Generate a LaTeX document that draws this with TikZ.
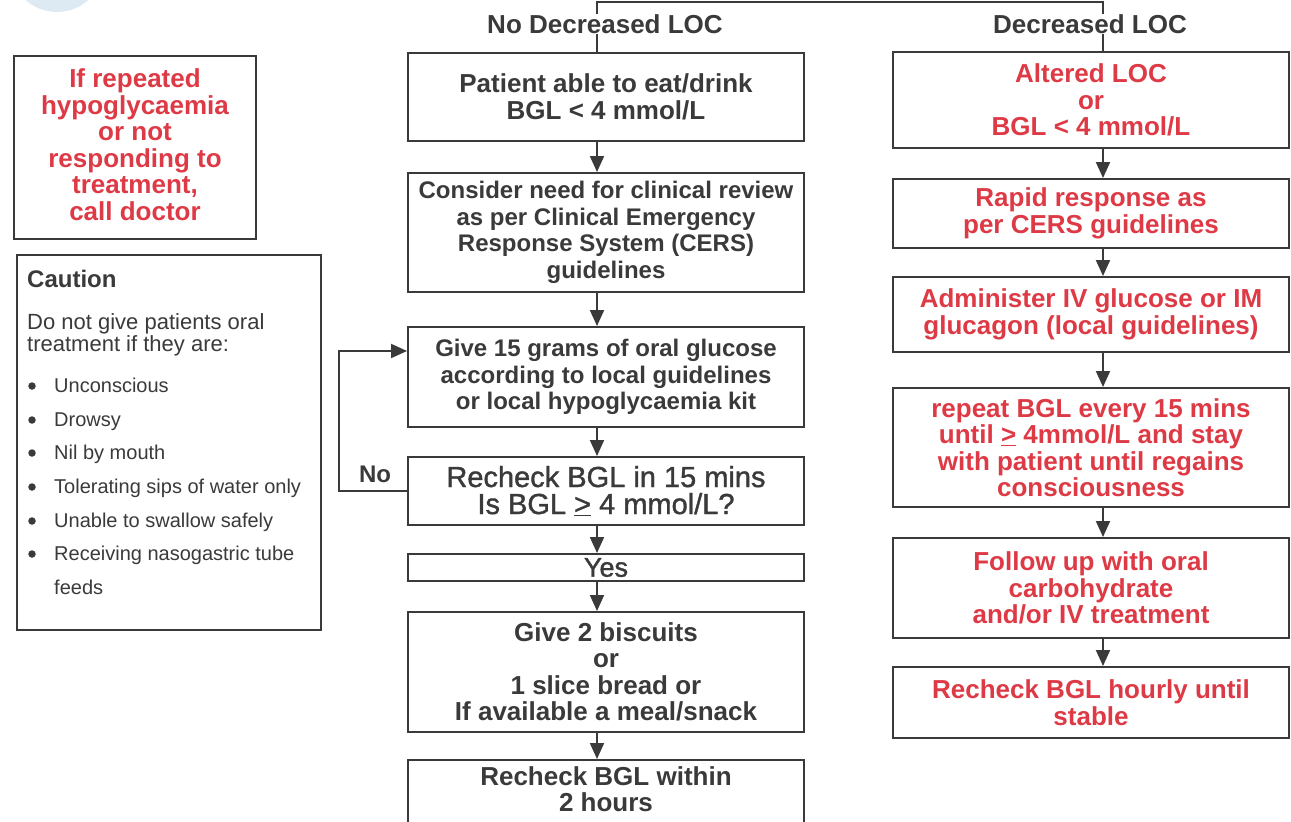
\documentclass[tikz,border=0pt]{standalone}
\usepackage{fontspec}
\setmainfont{Liberation Sans}
\newfontfamily\medfont[FakeBold=1.3]{Liberation Sans}
\usetikzlibrary{arrows.meta}
\definecolor{ink}{RGB}{58,58,58}
\definecolor{redt}{RGB}{222,58,70}
\definecolor{bubble}{RGB}{222,234,243}
\newcommand\fsz[2]{\fontsize{#1}{#2}\selectfont}
\tikzset{
  box/.style={draw=ink, line width=2pt, minimum width=396pt, align=center,
    inner sep=0pt, text=ink, font=\bfseries\fsz{26}{26.5}},
  rbox/.style={box, text=redt},
  hdr/.style={inner sep=0pt, text=ink, font=\bfseries\fsz{26}{26}},
  conn/.style={draw=ink, line width=2pt},
  arr/.style={conn, -{Triangle[width=14pt,length=16pt]}},
  ctext/.style={inner sep=0pt, text=ink, anchor=base west},
  bul/.style={ctext, font=\fsz{20}{20}},
  dot/.style={circle, fill=ink, inner sep=0pt, minimum size=7.5pt}
}
\begin{document}
\begin{tikzpicture}[x=1pt,y=-1pt]
\useasboundingbox (0,0) rectangle (1291,822);
\fill[white] (0,0) rectangle (1291,822);
\fill[bubble] (57,-35) circle (47pt);

% coordinates for connector axes
\coordinate (axL) at (597,0);
\coordinate (axR) at (1103,0);
\coordinate (topline) at (0,2);
\coordinate (loopTop) at (339,351);

% headers
\node[hdr] (HL) at (605,24) {No Decreased LOC};
\node[hdr] (HR) at (1090,24) {Decreased LOC};

% left column
\node[box, minimum height=88pt] (L1) at (606,97) {Patient able to eat/drink\\BGL < 4 mmol/L};
\node[box, minimum height=119pt, font=\bfseries\fsz{24}{26.5}] (L2) at (606,232.5) {Consider need for clinical review\\as per Clinical Emergency\\Response System (CERS)\\guidelines};
\node[box, minimum height=100pt, font=\bfseries\fsz{24}{26.5}] (L3) at (606,377) {Give 15 grams of oral glucose\\according to local guidelines\\or local hypoglycaemia kit};
\node[box, minimum height=68pt, font=\medfont\fsz{29}{27}] (L4) at (606,491) {Recheck BGL in 15 mins\\Is BGL \underline{>} 4 mmol/L?};
\node[box, minimum height=27pt, font=\medfont\fsz{27}{27}] (L5) at (606,567.5) {Yes};
\node[box, minimum height=120pt] (L6) at (606,672) {Give 2 biscuits\\or\\1 slice bread or\\If available a meal/snack};
\node[box, minimum height=84pt] (L7) at (606,802) {};
\node[inner sep=0pt, align=center, text=ink, font=\bfseries\fsz{26}{26.5}] (L7T) at (606,789) {Recheck BGL within\\2 hours};
\node[inner sep=0pt, text=ink, font=\bfseries\fsz{24}{24}] (No) at (375,474) {No};

% right column
\node[rbox, minimum height=96pt] (R1) at (1091,100) {Altered LOC\\or\\BGL < 4 mmol/L};
\node[rbox, minimum height=69pt] (R2) at (1091,213.5) {Rapid response as\\per CERS guidelines};
\node[rbox, minimum height=75pt] (R3) at (1091,314.5) {Administer IV glucose or IM\\glucagon (local guidelines)};
\node[rbox, minimum height=119pt] (R4) at (1091,447.5) {repeat BGL every 15 mins\\until \underline{>} 4mmol/L and stay\\with patient until regains\\consciousness};
\node[rbox, minimum height=100pt] (R5) at (1091,588) {Follow up with oral\\carbohydrate\\and/or IV treatment};
\node[rbox, minimum height=71pt] (R6) at (1091,702.5) {Recheck BGL hourly until\\stable};

% left side panels
\node[draw=ink, line width=2pt, minimum width=242pt, minimum height=183pt, inner sep=0pt] (warn) at (135,147.5) {};
\node[inner sep=0pt, align=center, text=redt, font=\bfseries\fsz{26}{26.5}] (warnT) at (135,144.5) {If repeated\\hypoglycaemia\\or not\\responding to\\treatment,\\call doctor};
\node[draw=ink, line width=2pt, minimum width=304pt, minimum height=375pt, inner sep=0pt] (caut) at (169,442.5) {};
\node[ctext, font=\bfseries\fsz{24}{24}] (cT) at (27,287) {Caution};
\node[ctext, font=\fsz{22}{22}] (c1) at (27,329) {Do not give patients oral};
\node[ctext, font=\fsz{22}{22}] (c2) at (27,351) {treatment if they are:};
\foreach \n/\y/\t in {b1/392/Unconscious, b2/426/Drowsy, b3/459/Nil by mouth,
  b4/493/Tolerating sips of water only, b5/527/Unable to swallow safely,
  b6/560/Receiving nasogastric tube}{
  \node[bul] (\n) at (54,\y) {\t};
  \node[dot] (\n d) at (32,\y-6) {};
}
\node[bul] (b7) at (54,594) {feeds};

% connectors
\draw[conn] (HL.north -| axL) |- (topline -| axR) -- (HR.north -| axR);
\draw[conn] (HL.south -| axL) -- (L1.north -| axL);
\draw[conn] (HR.south -| axR) -- (R1.north -| axR);
\draw[arr] (L1.south -| axL) -- (L2.north -| axL);
\draw[arr] (L2.south -| axL) -- (L3.north -| axL);
\draw[arr] (L3.south -| axL) -- (L4.north -| axL);
\draw[arr] (L4.south -| axL) -- (L5.north -| axL);
\draw[arr] (L5.south -| axL) -- (L6.north -| axL);
\draw[arr] (L6.south -| axL) -- (L7.north -| axL);
\draw[arr] (L4.west) -| (loopTop) -- (loopTop -| L3.west);
\draw[arr] (R1.south -| axR) -- (R2.north -| axR);
\draw[arr] (R2.south -| axR) -- (R3.north -| axR);
\draw[arr] (R3.south -| axR) -- (R4.north -| axR);
\draw[arr] (R4.south -| axR) -- (R5.north -| axR);
\draw[arr] (R5.south -| axR) -- (R6.north -| axR);
\end{tikzpicture}
\end{document}
